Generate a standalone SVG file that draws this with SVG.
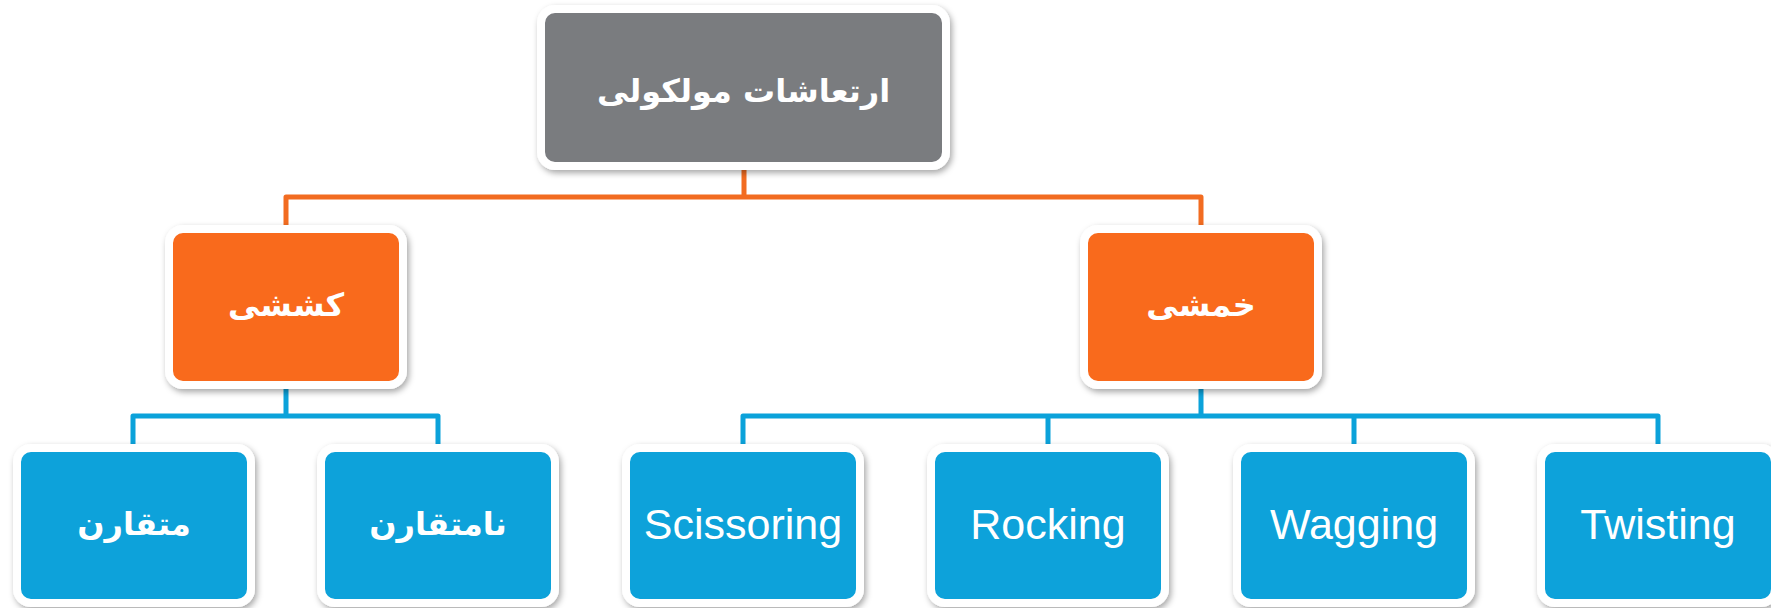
<svg xmlns="http://www.w3.org/2000/svg" width="1771" height="608" viewBox="0 0 1771 608">
<style>
.box{stroke:#ffffff;stroke-width:8;filter:url(#sh)}
.gray{fill:#7a7b7f}
.orange{fill:#f96b1d}
.blue{fill:#0ba2da}
.fa{font-family:"DejaVu Sans","Noto Sans",sans-serif;font-weight:bold;font-size:32px;fill:#ffffff;text-anchor:middle}
.en{font-family:"Liberation Sans",Arial,sans-serif;font-size:43px;fill:#ffffff;text-anchor:middle}
.co{fill:none;stroke:#f26c21;stroke-width:5;stroke-linejoin:round}
.cb{fill:none;stroke:#0ba2da;stroke-width:5;stroke-linejoin:round}
</style>
<defs>
<filter id="sh" x="-10%" y="-10%" width="125%" height="130%">
<feDropShadow dx="2" dy="3" stdDeviation="3" flood-color="#000000" flood-opacity="0.35"/>
</filter>
</defs>
<rect width="1771" height="608" fill="#ffffff"/>
<g id="connectors">
<path class="co" d="M744 166 V197 M286 225 V197 H1201 V225"/>
<path class="cb" d="M286 385 V416 M133 444 V416 H438 V444"/>
<path class="cb" d="M1201 385 V416 M743 444 V416 H1658 V444 M1048 416 V444 M1354 416 V444"/>
</g>
<g id="n-root"><rect class="box gray" x="541" y="9" width="405" height="157" rx="14"/><text class="fa" x="743.5" y="102">ارتعاشات مولکولی</text></g>
<g id="n-stretch"><rect class="box orange" x="169" y="229" width="234" height="156" rx="14"/><text class="fa" x="286" y="316">کششی</text></g>
<g id="n-bend"><rect class="box orange" x="1084" y="229" width="234" height="156" rx="14"/><text class="fa" x="1201" y="316">خمشی</text></g>
<g id="n-sym"><rect class="box blue" x="17" y="448" width="234" height="155" rx="14"/><text class="fa" x="134" y="535">متقارن</text></g>
<g id="n-asym"><rect class="box blue" x="321" y="448" width="234" height="155" rx="14"/><text class="fa" x="438" y="535">نامتقارن</text></g>
<g id="n-sciss"><rect class="box blue" x="626" y="448" width="234" height="155" rx="14"/><text class="en" x="743" y="539">Scissoring</text></g>
<g id="n-rock"><rect class="box blue" x="931" y="448" width="234" height="155" rx="14"/><text class="en" x="1048" y="539">Rocking</text></g>
<g id="n-wag"><rect class="box blue" x="1237" y="448" width="234" height="155" rx="14"/><text class="en" x="1354" y="539">Wagging</text></g>
<g id="n-twist"><rect class="box blue" x="1541" y="448" width="234" height="155" rx="14"/><text class="en" x="1658" y="539">Twisting</text></g>
</svg>
